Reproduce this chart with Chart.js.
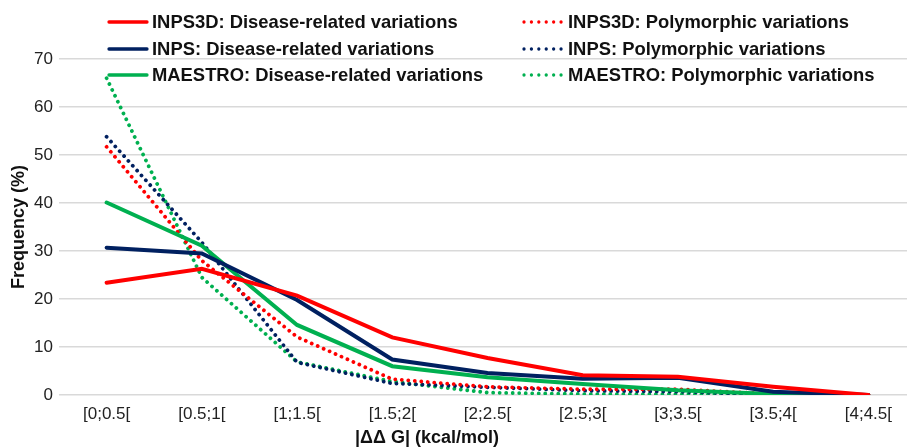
<!DOCTYPE html>
<html>
<head>
<meta charset="utf-8">
<script src="https://cdn.jsdelivr.net/npm/chart.js@4.4.1/dist/chart.umd.min.js"></script>
<style>
  html, body { margin: 0; padding: 0; background: #fff; overflow: hidden; }
  canvas { display: block; }
</style>
</head>
<body>
<canvas id="line-chart" width="916" height="447"></canvas>
<script>
var categories = ["[0;0.5[", "[0.5;1[", "[1;1.5[", "[1.5;2[", "[2;2.5[", "[2.5;3[", "[3;3.5[", "[3.5;4[", "[4;4.5["];

var inps3dDisease = [23.4, 26.3, 20.7, 12.0, 7.7, 4.1, 3.8, 1.7, 0];
var inpsDisease = [30.7, 29.5, 19.8, 7.4, 4.6, 3.4, 3.6, 0.7, 0];
var maestroDisease = [40.1, 31.1, 14.6, 6.0, 3.7, 2.3, 1.0, 0.2, 0];
var inps3dPoly = [51.7, 28.0, 12.1, 3.3, 1.7, 1.2, 1.2, 0.2, 0];
var inpsPoly = [53.8, 31.8, 6.8, 2.4, 1.6, 0.9, 0.7, 0.1, 0];
var maestroPoly = [66.0, 24.5, 6.9, 2.8, 0.5, 0.2, 0.2, 0.1, 0];

var yTicks = [0, 10, 20, 30, 40, 50, 60, 70];

var RED = '#ff0000', BLUE = '#002060', GREEN = '#00b050';
var FONT = '"Liberation Sans", Arial, sans-serif';

function solid(label, color, data) {
    return { label: label, data: data, borderColor: color, backgroundColor: color,
             borderWidth: 4, pointRadius: 0, tension: 0, fill: false, borderCapStyle: 'round' };
}
function dotted(label, color, data) {
    return { label: label, data: data, borderColor: color, backgroundColor: color,
             borderWidth: 3.8, pointRadius: 0, tension: 0, fill: false,
             borderDash: [0.01, 6.5], borderCapStyle: 'round' };
}

var lineData = {
    labels: categories,
    datasets: [
        solid("INPS3D: Disease-related variations", RED, inps3dDisease),
        solid("INPS: Disease-related variations", BLUE, inpsDisease),
        solid("MAESTRO: Disease-related variations", GREEN, maestroDisease),
        dotted("INPS3D: Polymorphic variations", RED, inps3dPoly),
        dotted("INPS: Polymorphic variations", BLUE, inpsPoly),
        dotted("MAESTRO: Polymorphic variations", GREEN, maestroPoly)
    ]
};

// legend drawn in two columns over the plot, like the original
var legendPlugin = {
    id: 'twoColLegend',
    afterDraw: function (chart) {
        var ctx = chart.ctx;
        var cols = [{ x: 108, text: 152 }, { x: 523, text: 568 }];
        var rows = [22, 49, 75];
        chart.data.datasets.forEach(function (ds, i) {
            var c = cols[Math.floor(i / 3)], y = rows[i % 3];
            ctx.save();
            ctx.strokeStyle = ds.borderColor;
            ctx.lineCap = 'round';
            if (ds.borderDash) {
                ctx.lineWidth = 3.3;
                ctx.setLineDash([0.01, 7.4]);
            } else {
                ctx.lineWidth = 3.3;
            }
            ctx.beginPath();
            ctx.moveTo(c.x + 1, y);
            ctx.lineTo(c.x + 39, y);
            ctx.stroke();
            ctx.setLineDash([]);
            ctx.fillStyle = '#111';
            ctx.font = 'bold 18.4px ' + FONT;
            ctx.textBaseline = 'middle';
            ctx.textAlign = 'left';
            ctx.fillText(ds.label, c.text, y + 1);
            ctx.restore();
        });
        // x axis title, cut off by the bottom edge as in the original
        ctx.save();
        ctx.fillStyle = '#111';
        ctx.font = 'bold 18px ' + FONT;
        ctx.textBaseline = 'top';
        ctx.textAlign = 'left';
        ctx.fillText('|\u0394\u0394 G| (kcal/mol)', 355, 429);
        ctx.restore();
    }
};

var chartOptions = {
    responsive: false,
    animation: false,
    layout: { padding: { top: 59, right: 0, left: 0, bottom: 0 } },
    plugins: {
        legend: { display: false },
        tooltip: { enabled: false }
    },
    scales: {
        x: {
            offset: true,
            grid: { display: false, drawTicks: false },
            border: { display: false },
            ticks: { color: '#222', padding: 9, maxRotation: 0, font: { family: FONT, size: 17 } },
            afterFit: function (scale) { scale.height = 52; }
        },
        y: {
            min: 0,
            max: 70,
            afterBuildTicks: function (scale) {
                scale.ticks = yTicks.map(function (v) { return { value: v }; });
            },
            grid: { color: '#d9d9d9', lineWidth: 1.5, drawTicks: false },
            border: { display: false },
            ticks: { color: '#222', padding: 6, font: { family: FONT, size: 17 } },
            title: { display: true, text: 'Frequency (%)', color: '#111',
                     padding: { top: 8, bottom: 0 },
                     font: { family: FONT, size: 18, weight: 'bold' } },
            afterFit: function (scale) { scale.width = 59; }
        }
    }
};

var lineChart = new Chart(document.getElementById("line-chart"), {
    type: 'line',
    data: lineData,
    options: chartOptions,
    plugins: [legendPlugin]
});
</script>
</body>
</html>
